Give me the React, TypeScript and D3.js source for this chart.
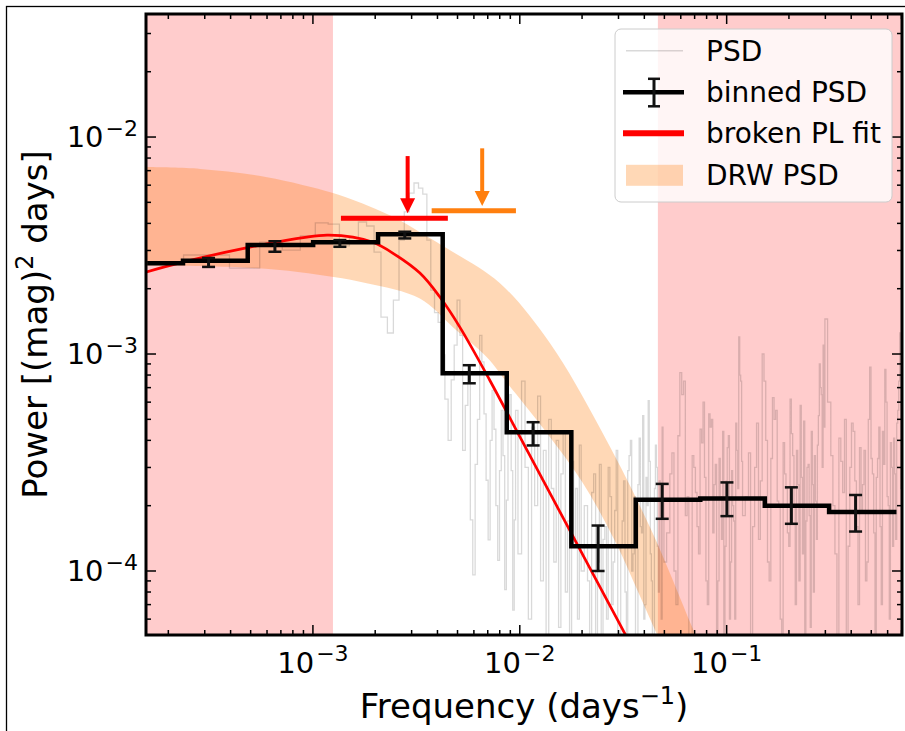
import React from 'react';
import * as d3 from 'd3';

const W = 905;
const H = 731;
const M = { left: 146, right: 902, top: 14, bottom: 635 };

const xDomain: [number, number] = [1.56e-4, 0.704];
const yDomain: [number, number] = [5.07e-5, 0.0369];

// masked (excluded) frequency ranges
const maskLowMax = 1.25e-3;
const maskHighMin = 0.0465;

// binned PSD
const binFreq = [1.58e-4, 3.13e-4, 6.55e-4, 1.35e-3, 2.78e-3, 5.7e-3, 1.16e-2, 2.39e-2, 4.88e-2, 0.1003, 0.2055, 0.42, 0.662];
const binPower = [2.62e-3, 2.69e-3, 3.18e-3, 3.27e-3, 3.56e-3, 8.15e-4, 4.36e-4, 1.3e-4, 2.13e-4, 2.16e-4, 2.0e-4, 1.87e-4, 1.87e-4];
const binErrLow = [null, 2.52e-3, 2.96e-3, 3.12e-3, 3.41e-3, 7.33e-4, 3.79e-4, 1.0e-4, 1.74e-4, 1.79e-4, 1.65e-4, 1.52e-4, null];
const binErrHigh = [null, 2.77e-3, 3.31e-3, 3.35e-3, 3.66e-3, 8.88e-4, 4.85e-4, 1.62e-4, 2.52e-4, 2.56e-4, 2.43e-4, 2.24e-4, null];

// broken power-law fit
const fitFreq = [1.5e-4, 2.35e-4, 4.96e-4, 9.35e-4, 1.17e-3, 1.56e-3, 1.95e-3, 2.43e-3, 3.29e-3, 4.11e-3, 5.13e-3, 7.16e-3, 1.0e-2, 1.75e-2, 3.15e-2, 3.8e-2];
const fitPower = [2.36e-3, 2.65e-3, 3.11e-3, 3.46e-3, 3.53e-3, 3.46e-3, 3.27e-3, 2.92e-3, 2.36e-3, 1.83e-3, 1.33e-3, 7.57e-4, 4.16e-4, 1.53e-4, 5.35e-5, 3.82e-5];

// DRW PSD band (upper and lower edges)
const drwUpperFreq = [1.5e-4, 2.85e-4, 6.0e-4, 1.25e-3, 1.82e-3, 2.63e-3, 3.48e-3, 4.6e-3, 8.02e-3, 1.4e-2, 2.44e-2, 4.26e-2, 6.87e-2, 8.78e-2];
const drwUpperPower = [7.27e-3, 7.13e-3, 6.53e-3, 5.52e-3, 4.85e-3, 4.14e-3, 3.53e-3, 3.01e-3, 2.12e-3, 1.12e-3, 4.56e-4, 1.59e-4, 5.4e-5, 3.1e-5];
const drwLowerFreq = [1.5e-4, 4.44e-4, 8.65e-4, 1.82e-3, 3.29e-3, 4.75e-3, 6.93e-3, 8.65e-3, 1.32e-2, 2.01e-2, 2.88e-2, 3.8e-2, 4.75e-2, 6.0e-2];
const drwLowerPower = [2.56e-3, 2.51e-3, 2.38e-3, 2.12e-3, 1.8e-3, 1.33e-3, 9.66e-4, 7.4e-4, 4.45e-4, 2.56e-4, 1.38e-4, 7.71e-5, 4.78e-5, 3.0e-5];

// break-frequency markers
const breakPLRange = [1.366e-3, 4.49e-3];
const breakPLLevel = 4.22e-3;
const breakPLArrow = { f: 2.87e-3, from: 8.17e-3, to: 4.45e-3 };
const breakDRWRange = [3.75e-3, 9.58e-3];
const breakDRWLevel = 4.57e-3;
const breakDRWArrow = { f: 6.58e-3, from: 8.87e-3, to: 4.81e-3 };

// raw periodogram
const psdFreq = [
  1.58e-4, 3.16e-4, 4.74e-4, 6.32e-4, 7.9e-4, 9.48e-4, 1.106e-3, 1.264e-3, 1.422e-3, 1.58e-3,
  1.738e-3, 1.896e-3, 2.054e-3, 2.212e-3, 2.37e-3, 2.528e-3, 2.686e-3, 2.844e-3, 3.002e-3, 3.16e-3,
  3.318e-3, 3.476e-3, 3.634e-3, 3.792e-3, 3.95e-3, 4.108e-3, 4.266e-3, 4.424e-3, 4.582e-3, 4.74e-3,
  4.898e-3, 5.056e-3, 5.214e-3, 5.372e-3, 5.53e-3, 5.688e-3, 5.846e-3, 6.004e-3, 6.162e-3, 6.32e-3,
  6.478e-3, 6.636e-3, 6.794e-3, 6.952e-3, 7.11e-3, 7.268e-3, 7.426e-3, 7.584e-3, 7.742e-3, 7.9e-3,
  8.058e-3, 8.216e-3, 8.374e-3, 8.532e-3, 8.69e-3, 8.848e-3, 9.006e-3, 9.164e-3, 9.322e-3, 9.48e-3,
  0.0096, 0.01, 0.0104, 0.0108, 0.0112, 0.0116, 0.012, 0.0124, 0.0128, 0.0132, 0.0136, 0.014, 0.0144, 0.0148,
  0.0152, 0.0156, 0.016, 0.0164, 0.0168, 0.0172, 0.0176, 0.018, 0.0184, 0.0188, 0.0192, 0.0196, 0.02,
  0.021, 0.022, 0.023, 0.024, 0.025, 0.026, 0.027, 0.028, 0.029, 0.03, 0.031, 0.032, 0.033, 0.034, 0.035,
  0.036, 0.037, 0.038, 0.039, 0.04, 0.041, 0.042, 0.043, 0.044, 0.045, 0.046, 0.047, 0.048, 0.049, 0.05,
  0.0525, 0.055, 0.0575, 0.06, 0.0625, 0.065, 0.0675, 0.07, 0.0725, 0.075, 0.0775, 0.08, 0.0825, 0.085,
  0.0875, 0.09, 0.0925, 0.095, 0.0975, 0.1, 0.1025, 0.105, 0.1075, 0.11, 0.1125, 0.115, 0.1175, 0.12,
  0.126, 0.132, 0.138, 0.144, 0.15, 0.156, 0.162, 0.168, 0.174, 0.18, 0.186, 0.192, 0.198, 0.204, 0.21,
  0.216, 0.222, 0.228, 0.234, 0.24, 0.246, 0.252, 0.258, 0.264, 0.27, 0.276, 0.282, 0.288, 0.294, 0.3,
  0.315, 0.33, 0.345, 0.36, 0.375, 0.39, 0.405, 0.42, 0.435, 0.45, 0.465, 0.48, 0.495, 0.51, 0.525,
  0.54, 0.555, 0.57, 0.585, 0.6, 0.615, 0.63, 0.645, 0.66, 0.675, 0.69, 0.705,
];
const psdPower = [
  2.65e-3, 2.86e-3, 2.49e-3, 3.28e-3, 3.01e-3, 3.5e-3, 4.02e-3, 3.97e-3, 3.15e-3, 3.43e-3,
  4.06e-3, 3.89e-3, 2.95e-3, 1.48e-3, 1.25e-3, 1.77e-3, 3.35e-3, 4.52e-3, 5.52e-3, 6.14e-3,
  5.82e-3, 5.46e-3, 3.35e-3, 1.97e-3, 1.55e-3, 1.4e-3, 9.9e-4, 6.2e-4, 4.0e-4, 7.6e-4,
  1.1e-3, 1.77e-3, 1.22e-3, 3.6e-4, 5.8e-4, 8.3e-4, 1.72e-4, 9.6e-5, 3.1e-4, 5.0e-4,
  1.22e-3, 9.2e-4, 5.3e-4, 2.62e-4, 1.39e-4, 4.0e-4, 6.8e-4, 4.5e-4, 2.0e-4, 1.12e-4,
  2.9e-4, 5.5e-4, 3.4e-4, 8.2e-5, 2.12e-4, 5.0e-4, 6.5e-4, 2.9e-4, 6.6e-5, 1.72e-4,
  5.5e-4, 1.2e-4, 7.5e-4, 3.0e-4, 6e-5, 4.6e-4, 2.0e-4, 6.4e-4, 9e-5, 3.6e-4, 4.5e-5, 5.0e-4, 2.4e-4, 1.1e-4,
  4.0e-4, 5.5e-5, 2.8e-4, 4.4e-4, 8e-5, 1.7e-4, 3.4e-5, 3.2e-4, 1.3e-4, 2.4e-4, 6e-5, 3.8e-4, 1.0e-4,
  2.0e-4, 4e-5, 2.8e-4, 1.1e-4, 3.2e-5, 1.6e-4, 3.0e-4, 7e-5, 1.9e-4, 2.5e-5, 1.3e-4, 2.6e-4, 5e-5, 3.4e-4, 1.0e-4,
  2.2e-4, 3.8e-5, 4.1e-4, 1.5e-4, 6e-5, 2.7e-4, 6.1e-4, 1.2e-4, 3.0e-5, 2.4e-4, 3.0e-4, 8e-5, 1.8e-4, 4.6e-4, 1.1e-4,
  1.5e-4, 3.5e-4, 7e-5, 8.2e-4, 7.5e-4, 2.2e-4, 4e-5, 3.0e-4, 1.6e-4, 4.5e-4, 6.0e-4, 9e-5, 5.3e-4, 5.0e-4,
  2.5e-4, 5e-5, 3.3e-4, 1.4e-4, 3e-5, 2.6e-4, 4.2e-4, 1.1e-4, 2.0e-4, 6e-5, 3.6e-4, 1.2e-3, 7.5e-4, 1.8e-4,
  2.2e-4, 5e-5, 3.0e-4, 1.4e-4, 1.0e-3, 4.0e-4, 9e-5, 6.3e-4, 5.5e-4, 2.0e-4, 3.5e-5, 2.8e-4, 1.5e-4, 6.2e-4, 3.4e-4,
  7e-5, 2.5e-4, 5.8e-4, 1.2e-4, 4e-5, 3.0e-4, 1.8e-4, 4.4e-4, 8e-5, 2.1e-4, 3.8e-4, 9.0e-4, 6.5e-4, 1.1e-3, 1.45e-3,
  6.0e-4, 2.0e-4, 5e-5, 3.2e-4, 5.0e-4, 1.3e-4, 4.8e-4, 2.6e-4, 7e-5, 1.9e-4, 3.6e-4, 1.1e-4, 8.7e-4, 2.8e-4, 4e-5,
  3.3e-4, 1.6e-4, 4.4e-4, 8.5e-4, 2.2e-4, 6e-5, 3.0e-4, 4.1e-4, 1.4e-4, 5.5e-4, 1.25e-3, 3.5e-4,
];
// additional periodogram samples between the ones above (high-frequency, dense part)
const psdFreqExtra = [
  0.0215, 0.0225, 0.0235, 0.0245, 0.0255, 0.0265, 0.0275, 0.0285, 0.0295, 0.0305, 0.0315, 0.0325, 0.0335, 0.0345, 0.0355,
  0.0365, 0.0375, 0.0385, 0.0395, 0.0405, 0.0415, 0.0425, 0.0435, 0.0445, 0.0455, 0.0465, 0.0475, 0.0485, 0.0495,
  0.05375, 0.05625, 0.05875, 0.06125, 0.06375, 0.06625, 0.06875, 0.07125, 0.07375, 0.07625, 0.07875, 0.08125, 0.08375, 0.08625,
  0.08875, 0.09125, 0.09375, 0.09625, 0.09875, 0.10125, 0.10375, 0.10625, 0.10875, 0.11125, 0.11375, 0.11625, 0.11875,
  0.129, 0.135, 0.141, 0.147, 0.153, 0.159, 0.165, 0.171, 0.177, 0.183, 0.189, 0.195, 0.201, 0.207, 0.213,
  0.219, 0.225, 0.231, 0.237, 0.243, 0.249, 0.255, 0.261, 0.267, 0.273, 0.279, 0.285, 0.291, 0.297,
  0.3225, 0.3375, 0.3525, 0.3675, 0.3825, 0.3975, 0.4125, 0.4275, 0.4425, 0.4575, 0.4725, 0.4875, 0.5025,
  0.5175, 0.5325, 0.5475, 0.5625, 0.5775, 0.5925, 0.6075, 0.6225, 0.6375, 0.6525, 0.6675, 0.6825, 0.6975,
];
const psdPowerExtra = [
  9e-5, 2.3e-4, 4.5e-5, 3.1e-4, 1.4e-4, 6e-5, 2.2e-4, 1.1e-4, 3.6e-4, 5e-5, 1.7e-4, 8e-5, 2.9e-4, 4.0e-4, 1.2e-4,
  3.5e-5, 2.5e-4, 1.6e-4, 5.2e-4, 7e-5, 2.0e-4, 3.2e-4, 9e-5, 4.5e-5, 3.8e-4, 1.3e-4, 2.6e-4, 6e-5, 2.1e-4,
  2.8e-4, 1.0e-4, 4.2e-4, 6.5e-4, 1.8e-4, 5e-5, 3.4e-4, 2.3e-4, 1.2e-4, 3.9e-4, 2.7e-4, 7e-5, 4.6e-4, 1.5e-4,
  3.1e-4, 9e-5, 2.2e-4, 4.4e-4, 1.3e-4, 3.7e-4, 6e-5, 2.9e-4, 1.7e-4, 4.8e-4, 2.4e-4, 8.0e-4, 3.2e-4,
  3.5e-4, 1.6e-4, 4.8e-4, 2.6e-4, 7.5e-4, 1.1e-4, 3.3e-4, 5.0e-4, 2.1e-4, 6e-5, 3.9e-4, 2.4e-4, 1.3e-4, 4.3e-4, 2.0e-4,
  3.6e-4, 9e-5, 2.7e-4, 4.9e-4, 1.7e-4, 3.1e-4, 5.5e-5, 2.5e-4, 3.4e-4, 1.4e-4, 5.2e-4, 7.0e-4, 3.0e-4, 4.6e-4,
  3.4e-4, 1.2e-4, 4.1e-4, 2.3e-4, 5e-5, 3.0e-4, 4.4e-4, 1.6e-4, 3.7e-4, 2.5e-4, 9e-5, 5.0e-4, 3.3e-4,
  1.5e-4, 2.7e-4, 4.6e-4, 7e-5, 3.1e-4, 6.0e-4, 2.0e-4, 3.9e-4, 1.3e-4, 2.8e-4, 4.8e-4, 7.5e-4, 2.4e-4,
];

const xMajorTicks = [1e-3, 1e-2, 1e-1];
const yMajorTicks = [1e-4, 1e-3, 1e-2];

const legendLabels = ['PSD', 'binned PSD', 'broken PL fit', 'DRW PSD'];

const FONT = 'DejaVu Sans';
const ORANGE = '#ff7f0e';

function zip(a: number[], b: number[]): [number, number][] {
  const n = Math.min(a.length, b.length);
  const out: [number, number][] = [];
  for (let i = 0; i < n; i++) out.push([a[i], b[i]]);
  return out;
}

// matplotlib "steps-mid" (midpoints in linear data space)
function stepsMid(pts: [number, number][]): [number, number][] {
  const out: [number, number][] = [];
  if (!pts.length) return out;
  out.push(pts[0]);
  for (let i = 0; i < pts.length - 1; i++) {
    const m = (pts[i][0] + pts[i + 1][0]) / 2;
    out.push([m, pts[i][1]]);
    out.push([m, pts[i + 1][1]]);
  }
  out.push(pts[pts.length - 1]);
  return out;
}

function minorTicks(domain: [number, number]): number[] {
  const res: number[] = [];
  const lo = Math.floor(Math.log10(domain[0]));
  const hi = Math.ceil(Math.log10(domain[1]));
  for (let e = lo; e <= hi; e++) {
    for (let m = 2; m <= 9; m++) {
      const v = m * Math.pow(10, e);
      if (v >= domain[0] && v <= domain[1]) res.push(v);
    }
  }
  return res;
}

function expLabel(t: number) {
  const e = Math.round(Math.log10(t));
  return (e < 0 ? '\u2212' : '') + Math.abs(e);
}

export default function App() {
  const x = d3.scaleLog().domain(xDomain).range([M.left, M.right]);
  const y = d3.scaleLog().domain(yDomain).range([M.bottom, M.top]);

  const linear = d3
    .line<[number, number]>()
    .x((d) => x(d[0]))
    .y((d) => y(Math.max(d[1], 1e-7)));
  const smooth = d3
    .line<[number, number]>()
    .x((d) => x(d[0]))
    .y((d) => y(d[1]))
    .curve(d3.curveCatmullRom);

  const upper = zip(drwUpperFreq, drwUpperPower);
  const lower = zip(drwLowerFreq, drwLowerPower).reverse();
  const bandPath = (smooth(upper) || '') + (smooth(lower) || '').replace(/^M/, 'L') + 'Z';

  const psdPts = zip(psdFreq, psdPower)
    .concat(zip(psdFreqExtra, psdPowerExtra))
    .sort((a, b) => a[0] - b[0]);
  const psdPath = linear(stepsMid(psdPts)) || '';
  const binPath = linear(stepsMid(zip(binFreq, binPower))) || '';
  const fitPath = smooth(zip(fitFreq, fitPower)) || '';

  const xMinor = minorTicks(xDomain);
  const yMinor = minorTicks(yDomain);

  const pw = M.right - M.left;
  const ph = M.bottom - M.top;

  const arrow = (a: { f: number; from: number; to: number }, color: string) => {
    const ax = x(a.f);
    const y0 = y(a.from);
    const y1 = y(a.to);
    const headLen = 15;
    const headHalf = 7.5;
    return (
      <g>
        <line x1={ax} x2={ax} y1={y0} y2={y1 - headLen + 1} stroke={color} strokeWidth={4} />
        <path d={`M${ax - headHalf},${y1 - headLen} L${ax + headHalf},${y1 - headLen} L${ax},${y1} Z`} fill={color} />
      </g>
    );
  };

  // legend geometry
  const lgX = 615;
  const lgY = 29;
  const lgRows = [50.7, 92.3, 133.3, 175.3];
  const lgTextX = 706;

  return (
    <svg
      width={W}
      height={H}
      style={{ position: 'absolute', left: 0, top: 0, background: '#fff' }}
      fontFamily={FONT}
    >
      <defs>
        <clipPath id="plotClip">
          <rect x={M.left} y={M.top} width={pw} height={ph} />
        </clipPath>
      </defs>

      <rect x={0} y={0} width={W} height={H} fill="#fff" />
      {/* figure frame */}
      <rect x={6.5} y={6.5} width={W + 10} height={H + 10} fill="none" stroke="#000" strokeWidth={1.3} />

      <g clipPath="url(#plotClip)">
        {/* masked ranges */}
        <rect x={M.left} y={M.top} width={x(maskLowMax) - M.left} height={ph} fill="#ff0000" fillOpacity={0.2} />
        <rect x={x(maskHighMin)} y={M.top} width={M.right - x(maskHighMin)} height={ph} fill="#ff0000" fillOpacity={0.2} />

        {/* DRW band */}
        <path d={bandPath} fill={ORANGE} fillOpacity={0.3} stroke="none" />

        {/* raw PSD */}
        <path d={psdPath} fill="none" stroke="#000" strokeOpacity={0.15} strokeWidth={1.3} />

        {/* broken PL fit */}
        <path d={fitPath} fill="none" stroke="#ff0000" strokeWidth={2.7} />

        {/* binned PSD */}
        <path d={binPath} fill="none" stroke="#000" strokeWidth={4.5} strokeLinejoin="miter" />
        {binFreq.map((f, i) => {
          const lo = binErrLow[i];
          const hi = binErrHigh[i];
          if (lo == null || hi == null) return null;
          const cx = x(f);
          return (
            <g key={i} stroke="#111">
              <line x1={cx} x2={cx} y1={y(lo)} y2={y(hi)} strokeWidth={3} />
              <line x1={cx - 6.5} x2={cx + 6.5} y1={y(lo)} y2={y(lo)} strokeWidth={2.5} />
              <line x1={cx - 6.5} x2={cx + 6.5} y1={y(hi)} y2={y(hi)} strokeWidth={2.5} />
            </g>
          );
        })}

        {/* break-frequency markers */}
        <line x1={x(breakPLRange[0])} x2={x(breakPLRange[1])} y1={y(breakPLLevel)} y2={y(breakPLLevel)} stroke="#ff0000" strokeWidth={5} />
        <line x1={x(breakDRWRange[0])} x2={x(breakDRWRange[1])} y1={y(breakDRWLevel)} y2={y(breakDRWLevel)} stroke={ORANGE} strokeWidth={5} />
        {arrow(breakPLArrow, '#ff0000')}
        {arrow(breakDRWArrow, ORANGE)}
      </g>

      {/* ticks */}
      <g stroke="#000" strokeWidth={1.5}>
        {xMajorTicks.map((t) => (
          <g key={'xM' + t}>
            <line x1={x(t)} x2={x(t)} y1={M.bottom} y2={M.bottom - 10} />
            <line x1={x(t)} x2={x(t)} y1={M.top} y2={M.top + 10} />
          </g>
        ))}
        {xMinor.map((t) => (
          <g key={'xm' + t}>
            <line x1={x(t)} x2={x(t)} y1={M.bottom} y2={M.bottom - 5} />
            <line x1={x(t)} x2={x(t)} y1={M.top} y2={M.top + 5} />
          </g>
        ))}
        {yMajorTicks.map((t) => (
          <g key={'yM' + t}>
            <line x1={M.left} x2={M.left + 10} y1={y(t)} y2={y(t)} />
            <line x1={M.right} x2={M.right - 10} y1={y(t)} y2={y(t)} />
          </g>
        ))}
        {yMinor.map((t) => (
          <g key={'ym' + t}>
            <line x1={M.left} x2={M.left + 5} y1={y(t)} y2={y(t)} />
            <line x1={M.right} x2={M.right - 5} y1={y(t)} y2={y(t)} />
          </g>
        ))}
      </g>

      {/* spines */}
      <rect x={M.left} y={M.top} width={pw} height={ph} fill="none" stroke="#000" strokeWidth={3} />

      {/* tick labels */}
      {xMajorTicks.map((t) => (
        <text key={'xl' + t} x={x(t)} y={673} textAnchor="middle" fontSize={29} fill="#000">
          10
          <tspan dx={2} dy={-12} fontSize={22}>
            {expLabel(t)}
          </tspan>
        </text>
      ))}
      {yMajorTicks.map((t) => (
        <text key={'yl' + t} x={138} y={y(t) + 10} textAnchor="end" fontSize={29} fill="#000">
          10
          <tspan dx={2} dy={-11} fontSize={22}>
            {expLabel(t)}
          </tspan>
        </text>
      ))}

      {/* axis labels */}
      <text x={(M.left + M.right) / 2} y={718} textAnchor="middle" fontSize={34} fill="#000">
        Frequency (days
        <tspan dy={-14} fontSize={24}>
          {'\u22121'}
        </tspan>
        <tspan dy={14}>)</tspan>
      </text>
      <text
        transform={`translate(47,${(M.top + M.bottom) / 2}) rotate(-90)`}
        textAnchor="middle"
        fontSize={34}
        fill="#000"
      >
        Power [(mag)
        <tspan dy={-14} fontSize={24}>
          2
        </tspan>
        <tspan dy={14}> days]</tspan>
      </text>

      {/* legend */}
      <g>
        <rect x={lgX} y={lgY} width={277} height={173} rx={6} ry={6} fill="#fff" fillOpacity={0.8} stroke="#cccccc" strokeWidth={1} />
        <line x1={626} x2={683} y1={lgRows[0]} y2={lgRows[0]} stroke="#000" strokeOpacity={0.15} strokeWidth={1.5} />
        <line x1={623} x2={684} y1={lgRows[1]} y2={lgRows[1]} stroke="#000" strokeWidth={4.5} />
        <line x1={654} x2={654} y1={lgRows[1] - 13.5} y2={lgRows[1] + 14} stroke="#111" strokeWidth={3} />
        <line x1={648} x2={660} y1={lgRows[1] - 13.5} y2={lgRows[1] - 13.5} stroke="#111" strokeWidth={2.5} />
        <line x1={648} x2={660} y1={lgRows[1] + 14} y2={lgRows[1] + 14} stroke="#111" strokeWidth={2.5} />
        <line x1={623} x2={684} y1={lgRows[2]} y2={lgRows[2]} stroke="#ff0000" strokeWidth={6} />
        <rect x={626} y={lgRows[3] - 10.5} width={57} height={21} fill={ORANGE} fillOpacity={0.3} />
        {legendLabels.map((l, i) => (
          <text key={l} x={lgTextX} y={lgRows[i] + 10} fontSize={28} fill="#000">
            {l}
          </text>
        ))}
      </g>
    </svg>
  );
}
